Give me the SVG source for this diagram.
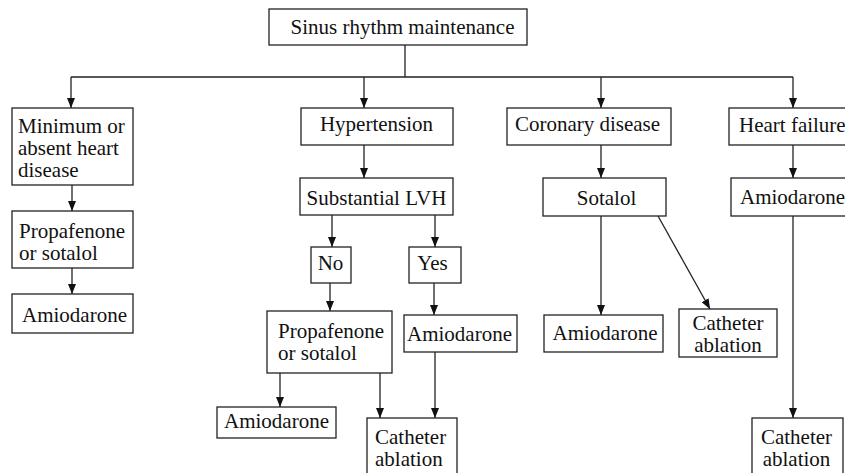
<svg xmlns="http://www.w3.org/2000/svg" width="845" height="473" viewBox="0 0 845 473">
<defs>
<style>
.box{fill:#fff;stroke:#222;stroke-width:1.3}
.t{font-family:"Liberation Serif","Times New Roman",serif;font-size:21px;fill:#111}
.m{text-anchor:middle}
.c{fill:none;stroke:#222;stroke-width:1.3}
</style>
<marker id="ah" markerUnits="userSpaceOnUse" markerWidth="10" markerHeight="8" refX="10" refY="4" orient="auto">
<path d="M0,0 L10,4 L0,8 z" fill="#111"/>
</marker>
</defs>
<rect width="845" height="473" fill="#fff"/>
<g id="connectors">
<path class="c" d="M405,45 V77 M71,77 H793"/>
<path class="c" marker-end="url(#ah)" d="M71,77 V108"/>
<path class="c" marker-end="url(#ah)" d="M364,77 V108"/>
<path class="c" marker-end="url(#ah)" d="M601,77 V108"/>
<path class="c" marker-end="url(#ah)" d="M793,77 V108"/>
<path class="c" marker-end="url(#ah)" d="M72,185 V211"/>
<path class="c" marker-end="url(#ah)" d="M72,268 V294"/>
<path class="c" marker-end="url(#ah)" d="M364,145 V178"/>
<path class="c" marker-end="url(#ah)" d="M332,215 V247"/>
<path class="c" marker-end="url(#ah)" d="M435,215 V247"/>
<path class="c" marker-end="url(#ah)" d="M330,283 V311"/>
<path class="c" marker-end="url(#ah)" d="M434,283 V315"/>
<path class="c" marker-end="url(#ah)" d="M280,373 V407"/>
<path class="c" marker-end="url(#ah)" d="M380,373 V418"/>
<path class="c" marker-end="url(#ah)" d="M435,352 V418"/>
<path class="c" marker-end="url(#ah)" d="M601,145 V178"/>
<path class="c" marker-end="url(#ah)" d="M601,216 V315"/>
<path class="c" marker-end="url(#ah)" d="M658,216 L710,309"/>
<path class="c" marker-end="url(#ah)" d="M793,145 V178"/>
<path class="c" marker-end="url(#ah)" d="M793,216 V418"/>
</g>
<g id="n-top"><rect class="box" x="269" y="9" width="258" height="36"/><text class="t m" x="402.5" y="34">Sinus rhythm maintenance</text></g>
<g id="n-minimum"><rect class="box" x="12" y="108" width="121" height="77"/><text class="t" x="18" y="133">Minimum or</text><text class="t" x="18" y="155">absent heart</text><text class="t" x="18" y="177">disease</text></g>
<g id="n-prop1"><rect class="box" x="12" y="211" width="121" height="57"/><text class="t" x="19" y="238">Propafenone</text><text class="t" x="19" y="260">or sotalol</text></g>
<g id="n-amio1"><rect class="box" x="12" y="294" width="121" height="39"/><text class="t m" x="74.5" y="322">Amiodarone</text></g>
<g id="n-hyp"><rect class="box" x="301" y="108" width="152" height="37"/><text class="t m" x="376.5" y="131">Hypertension</text></g>
<g id="n-lvh"><rect class="box" x="300" y="178" width="153" height="37"/><text class="t m" x="376.5" y="205">Substantial LVH</text></g>
<g id="n-no"><rect class="box" x="311" y="247" width="40" height="36"/><text class="t m" x="330.5" y="270">No</text></g>
<g id="n-yes"><rect class="box" x="409" y="247" width="52" height="36"/><text class="t m" x="432.5" y="270">Yes</text></g>
<g id="n-prop2"><rect class="box" x="267" y="311" width="125" height="62"/><text class="t" x="278" y="338">Propafenone</text><text class="t" x="278" y="360">or sotalol</text></g>
<g id="n-amioY"><rect class="box" x="404" y="315" width="113" height="37"/><text class="t" x="407" y="341">Amiodarone</text></g>
<g id="n-amio2"><rect class="box" x="217" y="407" width="119" height="31"/><text class="t m" x="276.5" y="428">Amiodarone</text></g>
<g id="n-cath2"><rect class="box" x="367" y="418" width="90" height="70"/><text class="t" x="375" y="444">Catheter</text><text class="t" x="375" y="466">ablation</text></g>
<g id="n-coronary"><rect class="box" x="507" y="108" width="164" height="37"/><text class="t m" x="587.5" y="131">Coronary disease</text></g>
<g id="n-sotalol"><rect class="box" x="543" y="178" width="123" height="38"/><text class="t m" x="606.5" y="205">Sotalol</text></g>
<g id="n-amio3"><rect class="box" x="544" y="315" width="119" height="37"/><text class="t m" x="605" y="340">Amiodarone</text></g>
<g id="n-cath3"><rect class="box" x="679" y="309" width="98" height="48"/><text class="t m" x="728" y="330">Catheter</text><text class="t m" x="728" y="352">ablation</text></g>
<g id="n-hf"><rect class="box" x="729" y="108" width="130" height="37"/><text class="t" x="739" y="132">Heart failure</text></g>
<g id="n-amio4"><rect class="box" x="731" y="178" width="130" height="38"/><text class="t" x="740" y="204">Amiodarone</text></g>
<g id="n-cath4"><rect class="box" x="752" y="418" width="91" height="70"/><text class="t m" x="796.5" y="444">Catheter</text><text class="t m" x="796.5" y="466">ablation</text></g>
</svg>
